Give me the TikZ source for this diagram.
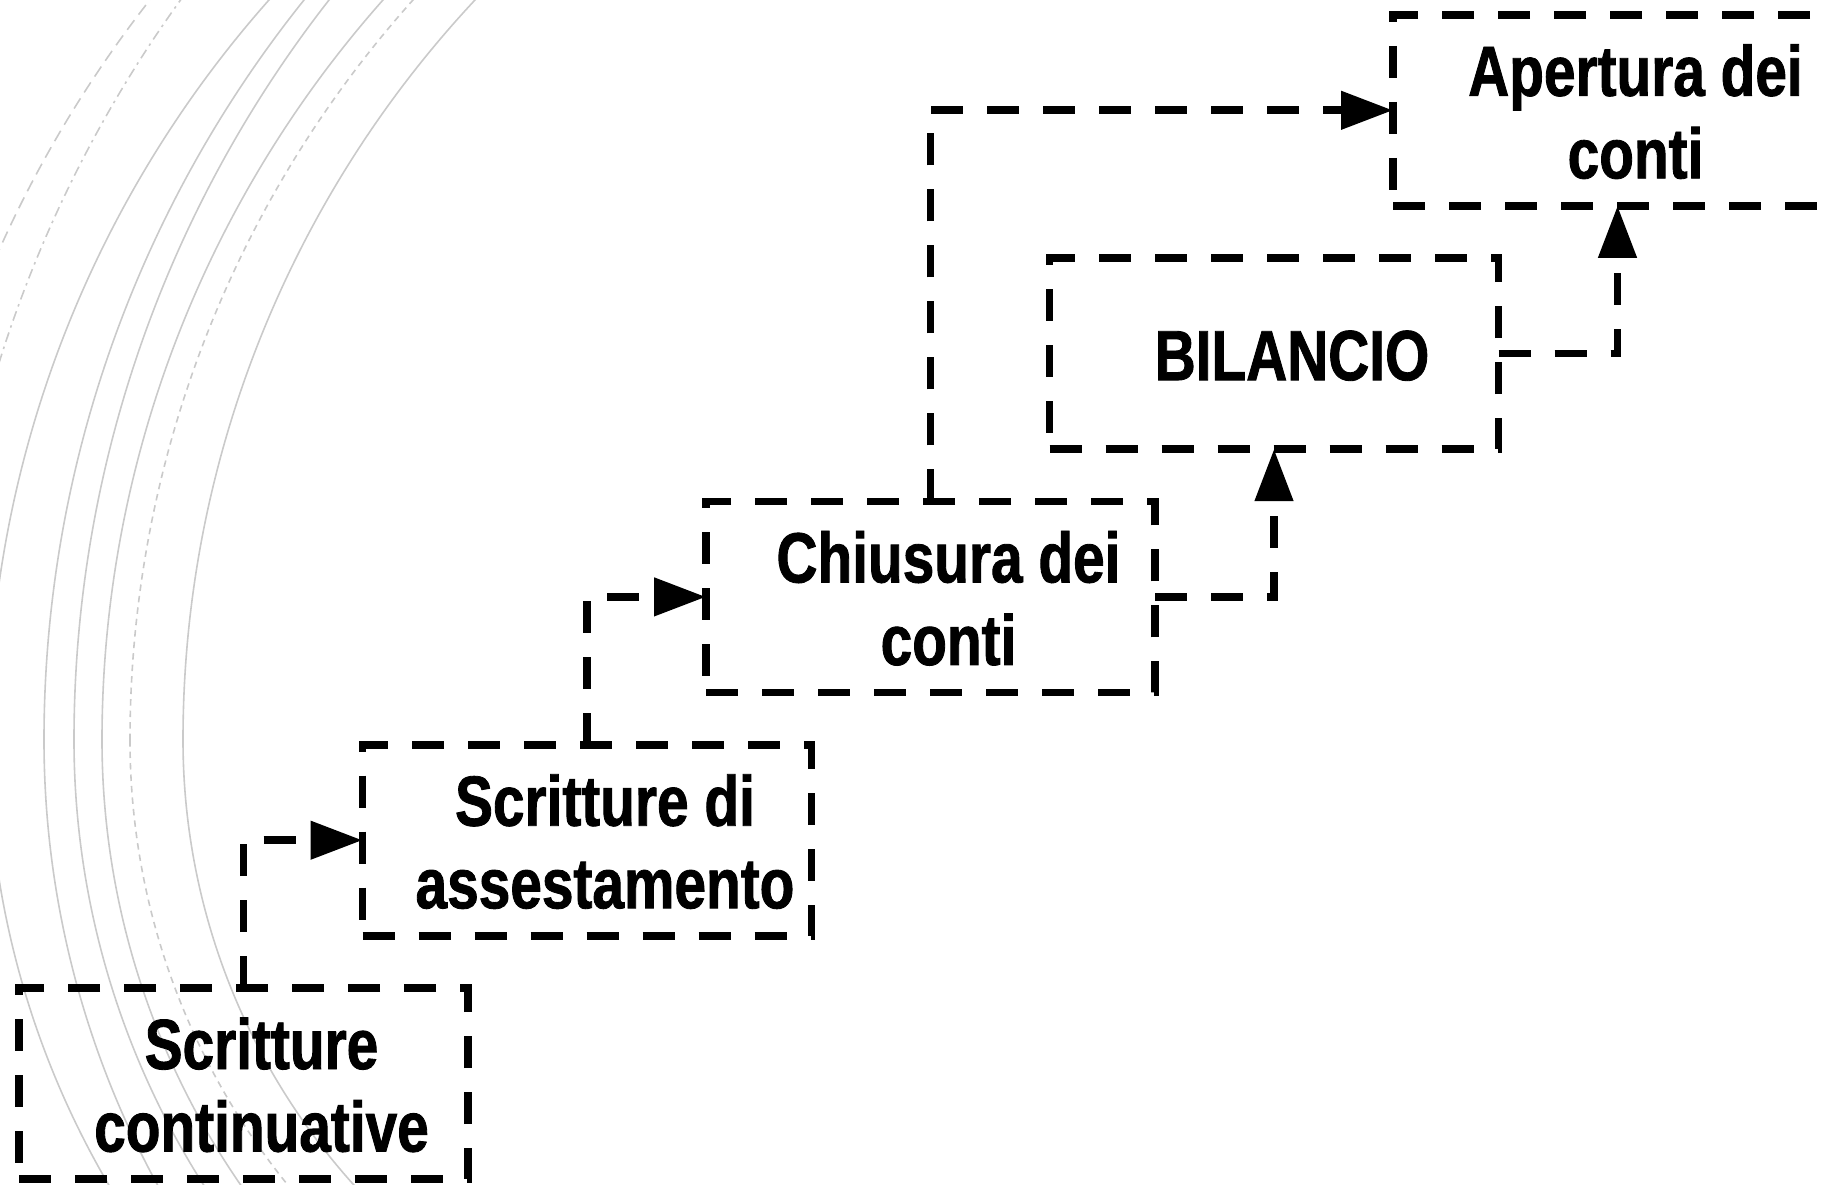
\documentclass[tikz,border=0pt]{standalone}
\usepackage{fontspec}
\newfontfamily\lblfont{Liberation Sans}[FakeStretch=0.80,FakeBold=1.2]
\usetikzlibrary{arrows.meta}
\definecolor{arcgray}{RGB}{202,202,202}
\tikzset{
  stepbox/.style={draw=black, line width=7.7pt, dash pattern=on 32pt off 24pt,
    minimum width=449pt, minimum height=191pt, inner sep=0pt, outer sep=0pt},
  lbl/.style={font=\lblfont\bfseries\fontsize{71}{82.5}\selectfont, align=center,
    anchor=base, inner sep=0pt},
  conn/.style={draw=black, line width=7.7pt, dash pattern=on 32pt off 24pt,
    -{Triangle[length=52pt,width=37pt]}},
  bgarc/.style={draw=arcgray, line width=1.6pt},
  bgdash/.style={bgarc, dash pattern=on 6.5pt off 5pt},
  bglong/.style={bgarc, dash pattern=on 12pt off 7pt},
  bgdot/.style={bgarc, dash pattern=on 10pt off 5pt on 2.5pt off 5pt},
}
\begin{document}
\begin{tikzpicture}[x=1pt,y=-1pt]
\useasboundingbox (0,0) rectangle (1834,1184);
\clip (0,0) rectangle (1834,1184);
% background arcs (upper and lower circle parts meeting at the leftmost point)
\draw[bglong] (-105.5,740) arc[start angle=180, end angle=240, radius=1200];
\draw[bgdot] (-58.5,740) arc[start angle=180, end angle=240, radius=1265];
\draw[bgarc] (-12,740) arc[start angle=180, end angle=240, radius=1115]
             (-12,740) arc[start angle=180, end angle=120, radius=880];
\draw[bgarc] (44,740) arc[start angle=180, end angle=240, radius=1183]
             (44,740) arc[start angle=180, end angle=120, radius=928.8];
\draw[bgarc] (74,740) arc[start angle=180, end angle=240, radius=1201.2]
             (74,740) arc[start angle=180, end angle=120, radius=828.6];
\draw[bgarc] (102,740) arc[start angle=180, end angle=240, radius=1114.9]
             (102,740) arc[start angle=180, end angle=120, radius=783.3];
\draw[bgdash] (130,740) arc[start angle=180, end angle=240, radius=1109]
              (130,740) arc[start angle=180, end angle=120, radius=706.3];
\draw[bgarc] (183,740) arc[start angle=180, end angle=240, radius=1083.7]
             (183,740) arc[start angle=180, end angle=120, radius=664.8];
% boxes
\node[stepbox] (b0) at (243.5,1083.5) {};
\node[stepbox] (b1) at (587,840.2) {};
\node[stepbox] (b2) at (930.5,596.9) {};
\node[stepbox] (b3) at (1274,353.6) {};
\node[stepbox] (b4) at (1617.5,110.3) {};
% labels (base = baseline of the last line)
\node[lbl] (t0) at (261.5,1151.5) {Scritture\\continuative};
\node[lbl] (t1) at (605,908.2) {Scritture di\\assestamento};
\node[lbl] (t2) at (948.5,664.9) {Chiusura dei\\conti};
\node[lbl] (t3) at (1292,380.1) {BILANCIO};
\node[lbl] (t4) at (1635.5,178.3) {Apertura dei\\conti};
% connectors
\draw[conn] (b0.north) |- (b1.west);
\draw[conn] (b1.north) |- (b2.west);
\draw[conn] (b2.north) |- (b4.west);
\draw[conn] (b2.east) -| (b3.south);
\draw[conn] (b3.east) -| (b4.south);
\end{tikzpicture}
\end{document}
